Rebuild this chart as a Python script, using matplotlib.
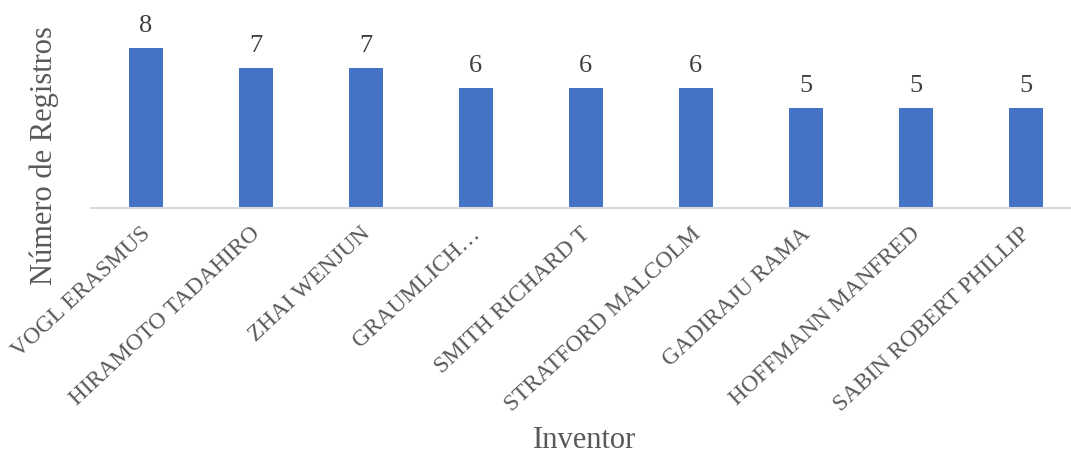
import matplotlib.pyplot as plt
import matplotlib.transforms as mtransforms

inventors = ["VOGL ERASMUS", "HIRAMOTO TADAHIRO", "ZHAI WENJUN", "GRAUMLICH…",
             "SMITH RICHARD T", "STRATFORD MALCOLM", "GADIRAJU RAMA",
             "HOFFMANN MANFRED", "SABIN ROBERT PHILLIP"]
registros = [8, 7, 7, 6, 6, 6, 5, 5, 5]

plt.rcParams["font.family"] = ["Liberation Serif", "DejaVu Serif"]

fig = plt.figure(figsize=(10.71, 4.6), dpi=100)
ax = fig.add_axes([0.085, 0.545, 0.924, 0.435])

x = range(len(inventors))
bars = ax.bar(x, registros, width=0.31, color="#4472C4")
ax.bar_label(bars, labels=[str(v) for v in registros], padding=9,
             fontsize=19, color="#404040")

ax.set_xlim(-0.5, len(inventors) - 0.5)
ax.set_ylim(0, 10)
ax.set_yticks([])
ax.set_xticks(list(x))
ax.set_xticklabels(inventors, rotation=43, ha="right", rotation_mode="anchor",
                   fontsize=16.8, color="#595959")
ax.tick_params(axis="x", length=0, pad=10)

# nudge the slanted names a little to the left
shift = mtransforms.ScaledTranslation(-4 / 72, 0, fig.dpi_scale_trans)
for lbl in ax.get_xticklabels():
    lbl.set_transform(lbl.get_transform() + shift)

for side in ["top", "right", "left"]:
    ax.spines[side].set_visible(False)
ax.spines["bottom"].set_color("#D9D9D9")
ax.spines["bottom"].set_linewidth(1.5)

ax.set_ylabel("Número de Registros", fontsize=22, color="#595959")
ax.yaxis.set_label_coords(-0.032, 0.27)
fig.text(0.546, 0.043, "Inventor", fontsize=22, color="#595959",
         ha="center", va="center")

fig.savefig("out.png", dpi=100)
